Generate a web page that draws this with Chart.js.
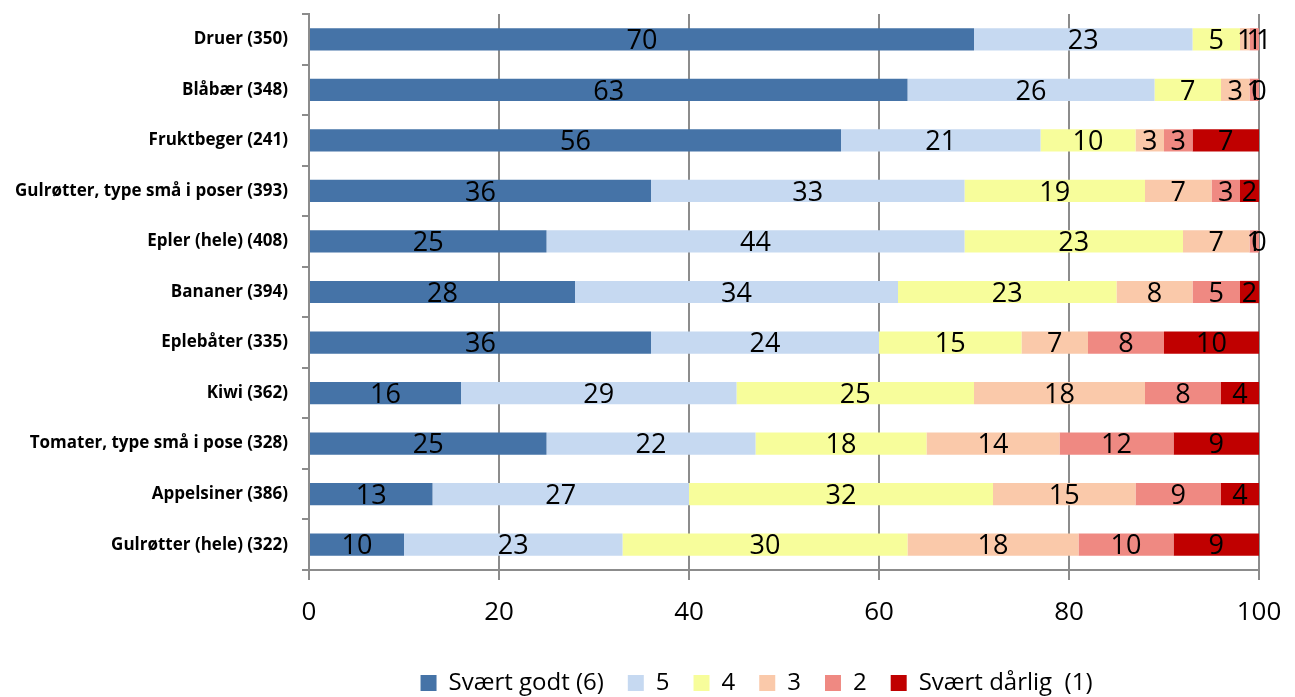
<!DOCTYPE html>
<html>
<head>
<meta charset="utf-8">
<script src="https://cdn.jsdelivr.net/npm/chart.js@4"></script>
<style>
  html, body { margin: 0; padding: 0; background: #fff; }
  #wrap { width: 1295px; height: 697px; }
</style>
</head>
<body>
<div id="wrap"><canvas id="chart"></canvas></div>
<script>
const categories = [
  "Druer (350)",
  "Blåbær (348)",
  "Fruktbeger (241)",
  "Gulrøtter, type små i poser (393)",
  "Epler (hele) (408)",
  "Bananer (394)",
  "Eplebåter (335)",
  "Kiwi (362)",
  "Tomater, type små i pose (328)",
  "Appelsiner (386)",
  "Gulrøtter (hele) (322)"
];
const seriesNames = ["Svært godt (6)", "5", "4", "3", "2", "Svært dårlig  (1)"];
const score6 = [70, 63, 56, 36, 25, 28, 36, 16, 25, 13, 10];
const score5 = [23, 26, 21, 33, 44, 34, 24, 29, 22, 27, 23];
const score4 = [5, 7, 10, 19, 23, 23, 15, 25, 18, 32, 30];
const score3 = [1, 3, 3, 7, 7, 8, 7, 18, 14, 15, 18];
const score2 = [1, 1, 3, 3, 1, 5, 8, 8, 12, 9, 10];
const score1 = [1, 0, 7, 2, 0, 2, 10, 4, 9, 4, 9];
const xTicks = [0, 20, 40, 60, 80, 100];

const colors = ["#4573a7", "#c6d9f1", "#f7fd9b", "#fac9aa", "#ef8982", "#c00000"];
const values = [score6, score5, score4, score3, score2, score1];

// labels in the middle of each segment
const segLabels = {
  id: "segLabels",
  afterDatasetsDraw(chart) {
    const ctx = chart.ctx;
    ctx.save();
    ctx.font = "27px 'Open Sans'";
    ctx.fillStyle = "#000";
    ctx.textAlign = "center";
    ctx.textBaseline = "middle";
    chart.data.datasets.forEach((ds, i) => {
      chart.getDatasetMeta(i).data.forEach((bar, j) => {
        const x = (bar.x + bar.base) / 2;
        ctx.fillText(String(ds.data[j]), x, bar.y + 2);
      });
    });
    ctx.restore();
  }
};

// the legend in the original sits right of centre
const legendShift = {
  id: "legendShift",
  afterLayout(chart) {
    chart.legend.left += 127;
    chart.legend.right += 127;
  }
};

const gray = "#8c8c8c";

new Chart(document.getElementById("chart"), {
  type: "bar",
  data: {
    labels: categories,
    datasets: seriesNames.map((name, i) => ({
      label: name,
      data: values[i],
      backgroundColor: colors[i],
      borderWidth: 0,
      categoryPercentage: 1,
      barPercentage: 0.44
    }))
  },
  options: {
    indexAxis: "y",
    responsive: true,
    maintainAspectRatio: false,
    animation: false,
    layout: { padding: { top: 14, right: 36, bottom: -8, left: 0 } },
    scales: {
      x: {
        stacked: true,
        min: 0,
        max: 100,
        afterBuildTicks: (s) => { s.ticks = xTicks.map(v => ({ value: v })); },
        afterFit: (s) => { s.height = 77; s.paddingLeft = 0; s.paddingRight = 0; },
        grid: { color: gray, lineWidth: 2, tickLength: 10 },
        border: { color: gray, width: 2 },
        ticks: { font: { family: "Open Sans", size: 26 }, color: "#000", padding: 17 }
      },
      y: {
        stacked: true,
        afterFit: (s) => { s.width = 309; s.paddingTop = 0; s.paddingBottom = 0; },
        grid: { offset: true, drawOnChartArea: false, color: gray, lineWidth: 2, tickLength: 7 },
        border: { color: gray, width: 2 },
        ticks: { font: { family: "Open Sans", size: 17, weight: "bold" }, color: "#000", padding: 14 }
      }
    },
    plugins: {
      legend: {
        position: "bottom",
        labels: {
          font: { family: "Open Sans", size: 24 },
          color: "#000",
          boxWidth: 16,
          boxHeight: 16,
          padding: 24
        }
      },
      tooltip: { enabled: false }
    }
  },
  plugins: [segLabels, legendShift]
});
</script>
</body>
</html>
